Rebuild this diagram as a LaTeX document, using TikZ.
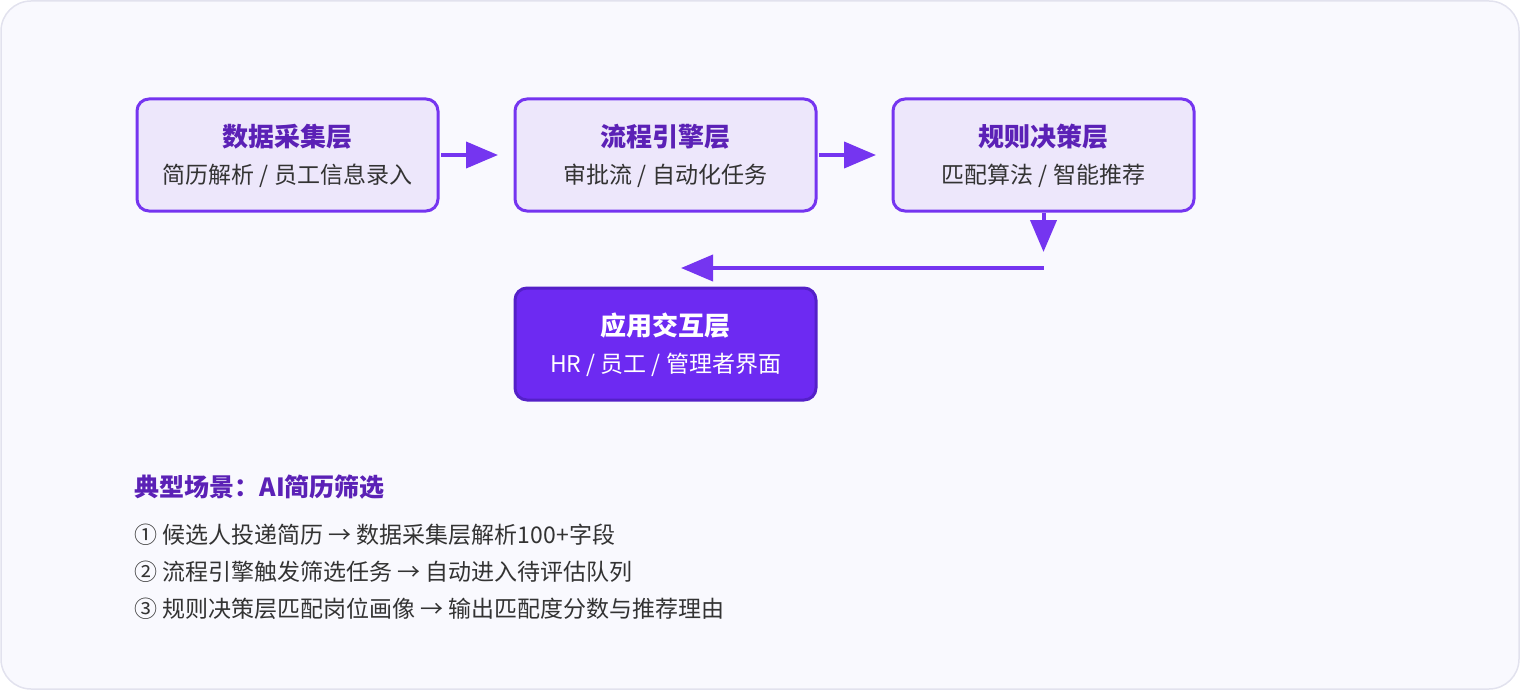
\documentclass[tikz,border=0pt]{standalone}
\usepackage{fontspec}
\setmainfont{Noto Sans CJK SC}
\usetikzlibrary{arrows.meta}
\definecolor{bg}{HTML}{F9F9FE}
\definecolor{bgline}{HTML}{E2E2EE}
\definecolor{pfill}{HTML}{EDE7FB}
\definecolor{pline}{HTML}{7535F0}
\definecolor{ptext}{HTML}{5B21B6}
\definecolor{dfill}{HTML}{6D2AF2}
\definecolor{dline}{HTML}{5420C8}
\definecolor{gtext}{HTML}{333333}
\tikzset{
  layer/.style={draw=pline,line width=3pt,fill=pfill,rounded corners=12pt,minimum width=301pt,minimum height=112pt,inner sep=0pt},
  dark/.style={layer,draw=dline,fill=dfill},
  title/.style={font=\fontsize{26}{30}\selectfont\bfseries,text=ptext},
  sub/.style={font=\fontsize{23}{27}\selectfont,text=gtext},
  conn/.style={pline,line width=4pt,-{Triangle[length=32pt,width=26pt]}},
  line/.style={font=\fontsize{23}{27}\selectfont,text=gtext,anchor=west}
}
\begin{document}
\begin{tikzpicture}[x=1pt,y=-1pt]
\useasboundingbox (0,0) rectangle (1520,690);
\draw[bgline,fill=bg,line width=1.5pt,rounded corners=30pt] (1,1) rectangle (1519,689);
\node[layer] (a) at (287.5,155) {};
\node[layer] (b) at (665.5,155) {};
\node[layer] (c) at (1043.5,155) {};
\node[dark] (d) at (665.5,344) {};
\node[title] (at) at (287.5,137) {数据采集层};
\node[sub] (as) at (287.5,176) {简历解析 / 员工信息录入};
\node[title] (bt) at (665.5,137) {流程引擎层};
\node[sub] (bs) at (665.5,176) {审批流 / 自动化任务};
\node[title] (ct) at (1043.5,137) {规则决策层};
\node[sub] (cs) at (1043.5,176) {匹配算法 / 智能推荐};
\node[title,text=white] (dt) at (665.5,326) {应用交互层};
\node[sub,text=white] (ds) at (665.5,365) {HR / 员工 / 管理者界面};
\coordinate (a1) at (441,155); \coordinate (a2) at (498,155);
\coordinate (b1) at (819,155); \coordinate (b2) at (876,155);
\coordinate (c1) at (1043.5,213); \coordinate (c2) at (1043.5,252);
\coordinate (e1) at (1043.5,268); \coordinate (e2) at (681,268);
\draw[conn] (a1) -- (a2);
\draw[conn] (b1) -- (b2);
\draw[conn] (c1) -- (c2);
\draw[conn] (e1) -- (e2);
\node[line,font=\fontsize{25}{29}\selectfont\bfseries,text=ptext] (h) at (131,487) {典型场景：AI简历筛选};
\node[line] (l1) at (131,535) {① 候选人投递简历 → 数据采集层解析100+字段};
\node[line] (l2) at (131,572) {② 流程引擎触发筛选任务 → 自动进入待评估队列};
\node[line] (l3) at (131,609) {③ 规则决策层匹配岗位画像 → 输出匹配度分数与推荐理由};
\end{tikzpicture}
\end{document}
